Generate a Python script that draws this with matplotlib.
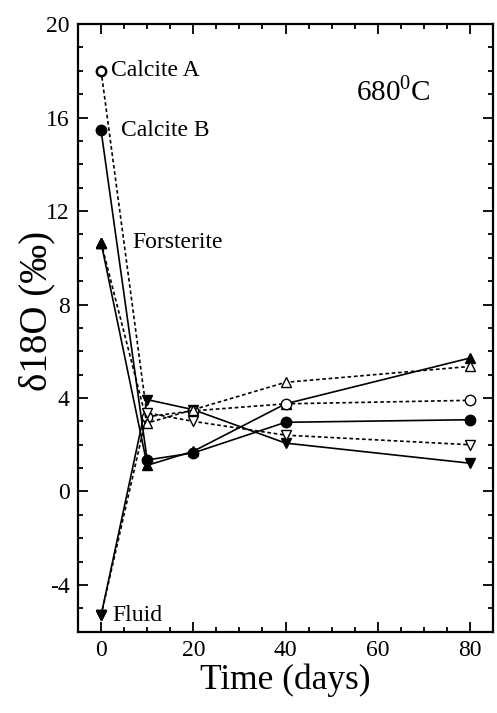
import matplotlib.pyplot as plt
from matplotlib.ticker import MultipleLocator

plt.rcParams['font.family'] = ['Liberation Serif', 'DejaVu Serif']
plt.rcParams['mathtext.fontset'] = 'custom'
plt.rcParams['mathtext.rm'] = 'Liberation Serif'
plt.rcParams['axes.unicode_minus'] = False

###############################################################################
# data

time = [0, 10, 20, 40, 80]  # days

calcite_a = [18.0, 3.2, 3.45, 3.75, 3.9]      # open circle, dotted
calcite_b = [15.45, 1.35, 1.65, 2.96, 3.07]   # filled circle, solid
forsterite = [10.65, 1.12, 1.72, 3.75, 5.71]  # filled triangle, solid
forsterite_2 = [10.65, 2.93, 3.5, 4.67, 5.35]  # open triangle, dotted
fluid = [-5.3, 3.93, 3.5, 2.07, 1.21]         # filled down triangle, solid
fluid_2 = [-5.3, 3.36, 3.0, 2.41, 2.0]        # open down triangle, dotted

labels = {'Calcite A': (calcite_a[0], 10),
          'Calcite B': (calcite_b[0], 20),
          'Forsterite': (forsterite[0], 31),
          'Fluid': (fluid[0], 11)}

###############################################################################
# plot

fig = plt.figure(figsize=(4.97, 7.13), dpi=100)
ax = fig.add_axes([0.157, 0.114, 0.835, 0.8523])

dash = (0, (2.2, 1.6))
solid_kw = dict(color='black', lw=1.2, markersize=7.5)
open_kw = dict(color='black', lw=1.2, markersize=7.5, markerfacecolor='white',
               markeredgewidth=1.0, linestyle=dash)

ax.plot(time, calcite_b, marker='o', **solid_kw)
ax.plot(time, forsterite, marker='^', **solid_kw)
ax.plot(time, fluid, marker='v', **solid_kw)
ax.plot(time, calcite_a, marker='o', **open_kw)
ax.plot(time, forsterite_2, marker='^', **open_kw)
ax.plot(time, fluid_2, marker='v', **open_kw)
# redraw the start points on top so the filled/open ones at t=0 look right
ax.plot([0], [calcite_a[0]], marker='o', markersize=6, color='black',
        markerfacecolor='white', markeredgewidth=1.0, linestyle='none')
ax.plot([0], [forsterite[0]], marker='^', markersize=7.5, color='black',
        linestyle='none')
ax.plot([0], [fluid[0]], marker='v', markersize=7.5, color='black',
        linestyle='none')

for name, (yv, dx) in labels.items():
    ax.annotate(name, (0, yv), xytext=(dx, 0), textcoords='offset pixels',
                va='center', ha='left', fontsize=17)

ax.text(55.3, 17.1, '680$^{0}$C', fontsize=21, va='center', ha='left')

ax.set_xlim(-5, 85)
ax.set_ylim(-6, 20)
ax.xaxis.set_major_locator(MultipleLocator(20))
ax.xaxis.set_minor_locator(MultipleLocator(5))
ax.yaxis.set_major_locator(MultipleLocator(4))
ax.yaxis.set_minor_locator(MultipleLocator(1))
ax.tick_params(which='both', direction='in', top=True, right=True,
               width=1.3, labelsize=17)
ax.tick_params(which='major', length=7, pad=6)
ax.tick_params(which='minor', length=3.5)
for sp in ax.spines.values():
    sp.set_linewidth(1.6)

ax.set_xlabel('Time (days)', fontsize=25.5, labelpad=2)
ax.set_ylabel('δ18O (‰)', fontsize=28, va='center')
ax.yaxis.set_label_coords(-0.1, 0.528)

plt.savefig('out.png', dpi=100)
